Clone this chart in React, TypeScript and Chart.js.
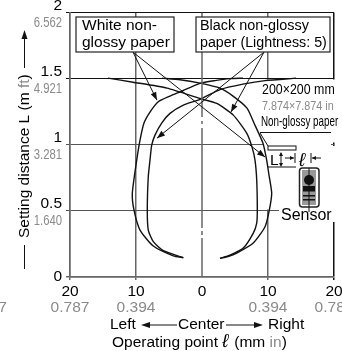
import React, { useEffect, useRef } from "react";
import { Chart, registerables } from "chart.js";

Chart.register(...registerables);

const leftOuterX = [-2.83, -4.35, -7.38, -9.39, -10.3, -10.56, -9.89, -9.39, -8.79, -7.88, -6.62, -4.85, -3.33, -0.3, 1.97, 4.24, 6.21];
const leftOuterY = [0.146, 0.16, 0.234, 0.355, 0.506, 0.632, 0.884, 1.035, 1.164, 1.247, 1.325, 1.368, 1.4, 1.464, 1.485, 1.5, 1.504];
const leftInnerX = [-2.83, -5.86, -7.38, -8.14, -8.29, -8.14, -7.88, -7.62, -7.12, -6.11, -4.85, -2.83, -0.3, 2.73, 6.21, 9.55, 14.24];
const leftInnerY = [0.146, 0.199, 0.267, 0.355, 0.506, 0.758, 0.884, 0.997, 1.073, 1.164, 1.237, 1.3, 1.343, 1.417, 1.458, 1.485, 1.504];
const rightOuterX = [2.73, 3.94, 5.26, 7.77, 9.55, 10.2, 10.56, 10.15, 9.8, 9.24, 7.88, 6.82, 4.7, 2.73, -0.3, -3.33, -6.06];
const rightOuterY = [0.141, 0.155, 0.181, 0.257, 0.38, 0.506, 0.635, 0.771, 0.884, 1.012, 1.164, 1.277, 1.368, 1.428, 1.466, 1.492, 1.504];
const rightInnerX = [2.73, 4.24, 6.26, 7.77, 8.29, 8.38, 8.29, 8.03, 7.58, 6.77, 4.74, 2.23, -0.3, -5.3, -10.45, -14.24];
const rightInnerY = [0.141, 0.165, 0.219, 0.332, 0.408, 0.506, 0.733, 0.884, 0.982, 1.088, 1.224, 1.312, 1.35, 1.428, 1.473, 1.504];
const centerLineY = [0, 0.295, null, 0.317, 0.348, null, 0.37, 1.126, null, 1.156, 1.179, null, 1.209, 2];

const yTickMetric = [0, 0.5, 1, 1.5, 2];
const yTickLabels = ["0", "0.5", "1", "1.5", "2"];
const yGrayValues = [0.5, 1, 1.5, 2];
const yGrayLabels = ["1.640", "3.281", "4.921", "6.562"];
const xGrayValues = [-32.5, -20, -10, 10, 20];
const xGrayLabels = ["0.787", "0.787", "0.394", "0.394", "0.787"];

const arrowsX = [[-10.45, -6.82], [-10.45, 9.55], [9.39, 4.39], [9.39, -6.82]];
const arrowsY = [[1.7, 1.337], [1.7, 0.907], [1.7, 1.247], [1.7, 1.05]];

const FONT = '"Liberation Sans", Arial, sans-serif';
const GRAY = "#8a8a8a";
const GRID = "#666666";
const INK = "#000";

const zip = (xs: number[], ys: (number | null)[]) => xs.map((x, i) => ({ x, y: ys[i] }));

function text(ctx: any, s: string, x: number, y: number, size: number, color = INK, align = "left", sx = 1, style = "") {
  ctx.save();
  ctx.translate(x, y);
  ctx.scale(sx, 1);
  ctx.font = `${style} ${size}px ${FONT}`;
  ctx.fillStyle = color;
  ctx.textAlign = align;
  ctx.textBaseline = "alphabetic";
  ctx.fillText(s, 0, 0);
  ctx.restore();
}

function seg(ctx: any, x1: number, y1: number, x2: number, y2: number, w = 1, color = "#111") {
  ctx.strokeStyle = color;
  ctx.lineWidth = w;
  ctx.beginPath();
  ctx.moveTo(x1, y1);
  ctx.lineTo(x2, y2);
  ctx.stroke();
}

function head(ctx: any, x1: number, y1: number, x2: number, y2: number, len = 8, half = 3) {
  const a = Math.atan2(y2 - y1, x2 - x1);
  ctx.fillStyle = "#111";
  ctx.beginPath();
  ctx.moveTo(x2, y2);
  ctx.lineTo(x2 - len * Math.cos(a) + half * Math.sin(a), y2 - len * Math.sin(a) - half * Math.cos(a));
  ctx.lineTo(x2 - len * Math.cos(a) - half * Math.sin(a), y2 - len * Math.sin(a) + half * Math.cos(a));
  ctx.closePath();
  ctx.fill();
}

const maskPlugin = {
  id: "mask",
  beforeDatasetsDraw(chart: any) {
    const { ctx } = chart;
    ctx.save();
    ctx.fillStyle = "#fff";
    ctx.fillRect(264, 79.5, 67, 130);
    ctx.fillRect(331, 79.5, 5, 63);
    ctx.fillRect(331, 146, 5, 76);
    ctx.fillRect(279, 209, 57, 13);
    ctx.restore();
  },
};

const notesPlugin = {
  id: "notes",
  afterDraw(chart: any) {
    const { ctx, scales } = chart;
    const sx = scales.x;
    const sy = scales.y;
    ctx.save();

    yGrayValues.forEach((v, i) => text(ctx, yGrayLabels[i], 62, sy.getPixelForValue(v) + 14, 14.5, GRAY, "right", 0.78));
    xGrayValues.forEach((v, i) => text(ctx, xGrayLabels[i], sx.getPixelForValue(v), 312, 15.5, GRAY, "center"));

    arrowsX.forEach((xs, i) => {
      const x1 = sx.getPixelForValue(xs[0]);
      const x2 = sx.getPixelForValue(xs[1]);
      const y1 = sy.getPixelForValue(arrowsY[i][0]);
      const y2 = sy.getPixelForValue(arrowsY[i][1]);
      seg(ctx, x1, y1, x2, y2, 1);
      head(ctx, x1, y1, x2, y2);
    });

    ctx.fillStyle = "#fff";
    ctx.strokeStyle = "#222";
    ctx.lineWidth = 1.2;
    ctx.fillRect(76, 17, 98, 35);
    ctx.strokeRect(76, 17, 98, 35);
    ctx.fillRect(196, 17, 134, 35);
    ctx.strokeRect(196, 17, 134, 35);
    text(ctx, "White non-", 82, 30, 15.5);
    text(ctx, "glossy paper", 82, 47, 15.5);
    text(ctx, "Black non-glossy", 200, 30, 15.5, INK, "left", 0.93);
    text(ctx, "paper (Lightness: 5)", 200, 47, 15.5, INK, "left", 0.92);

    text(ctx, "200×200 mm", 262, 94, 15.5, INK, "left", 0.8);
    text(ctx, "7.874×7.874 in", 262, 110, 13.5, GRAY, "left", 0.8);
    text(ctx, "Non-glossy paper", 261, 126, 14.5, INK, "left", 0.68);
    seg(ctx, 260, 132.5, 331, 132.5, 1);
    seg(ctx, 260, 133, 268, 146, 1);

    ctx.fillStyle = "#fff";
    ctx.fillRect(268, 146, 28, 4);
    ctx.strokeStyle = "#111";
    ctx.lineWidth = 1;
    ctx.strokeRect(268, 146, 28, 4);
    text(ctx, "L", 270, 165, 15.5);
    seg(ctx, 281, 153, 281, 165, 1);
    head(ctx, 281, 158, 281, 152, 4, 2);
    head(ctx, 281, 161, 281, 167, 4, 2);
    seg(ctx, 268, 167, 296, 167, 1);
    seg(ctx, 285, 158, 294, 158, 1);
    head(ctx, 288, 158, 294, 158, 4, 2);
    seg(ctx, 295, 153, 295, 163, 1);
    text(ctx, "ℓ", 299, 166, 19, INK, "left", 1, "italic");
    seg(ctx, 311, 153, 311, 163, 1);
    seg(ctx, 312, 158, 321, 158, 1);
    head(ctx, 317, 158, 312, 158, 4, 2);

    ctx.strokeStyle = "#222";
    ctx.lineWidth = 1.5;
    ctx.fillStyle = "#fff";
    ctx.beginPath();
    ctx.roundRect(299.5, 168, 19.5, 39, 3);
    ctx.fill();
    ctx.stroke();
    ctx.fillStyle = "#999";
    ctx.fillRect(302, 170, 14, 35);
    ctx.fillStyle = "#111";
    ctx.beginPath();
    ctx.arc(309, 180, 5, 0, Math.PI * 2);
    ctx.fill();
    ctx.fillRect(303, 186, 12, 4);
    ctx.fillRect(303, 190, 12, 1.5);
    ctx.fillRect(303, 195, 12, 1.5);
    ctx.fillRect(303, 199, 12, 1.5);
    seg(ctx, 309, 168, 309, 212, 1);
    text(ctx, "Sensor", 281, 220, 16);

    ctx.save();
    ctx.translate(29, 238);
    ctx.rotate(-Math.PI / 2);
    ctx.font = `15.5px ${FONT}`;
    ctx.fillStyle = INK;
    ctx.textAlign = "left";
    const a = "Setting distance L (m ";
    const b = "ft";
    ctx.fillText(a, 0, 0);
    const wa = ctx.measureText(a).width;
    ctx.fillStyle = GRAY;
    ctx.fillText(b, wa, 0);
    const wb = ctx.measureText(b).width;
    ctx.fillStyle = INK;
    ctx.fillText(")", wa + wb, 0);
    ctx.restore();
    seg(ctx, 24.5, 269, 24.5, 245, 1);
    seg(ctx, 24.5, 68, 24.5, 36, 1);
    head(ctx, 24.5, 60, 24.5, 30, 9, 3);

    text(ctx, "Left", 110, 329, 15.5);
    seg(ctx, 146, 325, 177, 325, 1);
    head(ctx, 160, 325, 141, 325, 9, 3);
    text(ctx, "Center", 178, 329, 15.5);
    seg(ctx, 226, 325, 256, 325, 1);
    head(ctx, 230, 325, 263, 325, 9, 3);
    text(ctx, "Right", 268, 329, 15.5);

    ctx.font = `15.5px ${FONT}`;
    let cx = 112;
    const s1 = "Operating point ";
    text(ctx, s1, cx, 347, 15.5);
    cx += ctx.measureText(s1).width;
    text(ctx, "ℓ", cx, 347, 19, INK, "left", 1, "italic");
    cx += 12;
    const s2 = "(mm ";
    text(ctx, s2, cx, 347, 15.5);
    cx += ctx.measureText(s2).width;
    text(ctx, "in", cx, 347, 15.5, GRAY);
    cx += ctx.measureText("in").width;
    text(ctx, ")", cx, 347, 15.5);
    ctx.restore();
  },
};

const curve = (data: any[]) => ({
  data,
  showLine: true,
  borderColor: "#111",
  borderWidth: 1.4,
  pointRadius: 0,
  tension: 0.2,
  fill: false,
});

export default function App() {
  const ref = useRef<HTMLCanvasElement>(null);
  useEffect(() => {
    document.body.style.margin = "0";
    const chart = new Chart(ref.current!, {
      type: "scatter",
      data: {
        datasets: [
          {
            data: centerLineY.map((y) => ({ x: 0, y })),
            showLine: true,
            borderColor: GRID,
            borderWidth: 1.5,
            pointRadius: 0,
            spanGaps: false,
          },
          curve(zip(leftOuterX, leftOuterY)),
          curve(zip(leftInnerX, leftInnerY)),
          curve(zip(rightOuterX, rightOuterY)),
          curve(zip(rightInnerX, rightInnerY)),
        ] as any,
      },
      plugins: [maskPlugin, notesPlugin],
      options: {
        animation: false,
        responsive: false,
        events: [],
        layout: { padding: { left: 0, right: 8, top: 12.5, bottom: 0 } },
        plugins: { legend: { display: false }, tooltip: { enabled: false } },
        scales: {
          x: {
            type: "linear",
            min: -20,
            max: 20,
            afterFit(s: any) {
              s.height = 74;
              s.paddingLeft = s.paddingRight = s.paddingTop = s.paddingBottom = 0;
            },
            afterBuildTicks(s: any) {
              s.ticks = [-20, -10, 0, 10, 20].map((value) => ({ value }));
            },
            border: { display: true, color: GRID, width: 1.5 },
            grid: {
              tickLength: 3,
              color: (c: any) => (c.tick?.value === 20 ? "#111" : c.tick?.value === 0 ? "rgba(0,0,0,0)" : GRID),
              lineWidth: 1.5,
            },
            ticks: {
              autoSkip: false,
              maxRotation: 0,
              padding: 2,
              color: INK,
              font: { family: FONT, size: 15.5 },
              callback: (v: any) => String(Math.abs(Number(v))),
            },
          },
          y: {
            type: "linear",
            min: 0,
            max: 2,
            afterFit(s: any) {
              s.width = 70;
              s.paddingLeft = s.paddingRight = s.paddingTop = s.paddingBottom = 0;
            },
            afterBuildTicks(s: any) {
              s.ticks = yTickMetric.map((value) => ({ value }));
            },
            border: { display: true, color: GRID, width: 1.5 },
            grid: {
              tickLength: 4,
              color: (c: any) => (c.tick?.value === 0.5 || c.tick?.value === 1 ? "#555" : c.tick?.value === 0 ? GRID : "#111"),
              lineWidth: (c: any) => (c.tick?.value === 0 ? 1.5 : 1),
            },
            ticks: {
              autoSkip: false,
              padding: 4,
              color: INK,
              font: { family: FONT, size: 15.5, lineHeight: 0.9 },
              callback: (v: any) => {
                const label = yTickLabels[yTickMetric.indexOf(Number(v))];
                return Number(v) === 0 ? label : [label, " "];
              },
            },
          },
        },
      },
    } as any);
    return () => chart.destroy();
  }, []);
  return (
    <div style={{ position: "fixed", left: 0, top: 0, width: 342, height: 351, overflow: "hidden", background: "#fff" }}>
      <canvas ref={ref} width={342} height={351} style={{ display: "block" }} />
    </div>
  );
}
